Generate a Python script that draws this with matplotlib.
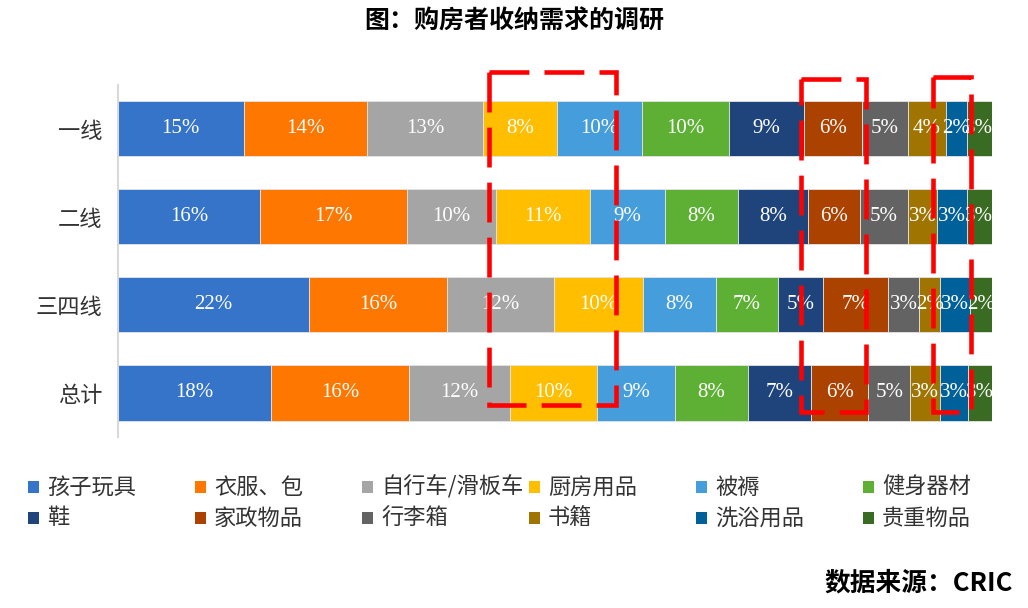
import numpy as np
import matplotlib
matplotlib.use("Agg")
import matplotlib.pyplot as plt
from matplotlib.patches import Rectangle

plt.rcParams['font.family'] = ['Noto Sans CJK SC', 'DejaVu Sans']

# rows (top to bottom) and categories
rows = ['一线', '二线', '三四线', '总计']
categories = ['孩子玩具', '衣服、包', '自行车/滑板车', '厨房用品', '被褥', '健身器材',
              '鞋', '家政物品', '行李箱', '书籍', '洗浴用品', '贵重物品']
colors = ['#3574c8', '#fe7700', '#a5a5a5', '#ffbe00', '#459ddb', '#5db034',
          '#1f447b', '#ac4200', '#636363', '#a07400', '#00619a', '#3a6b22']

# segment shares (% of bar)
share_tier1 = [14.45, 14.07, 13.31, 8.40, 9.73, 9.99, 8.58, 6.60, 5.26, 4.35, 2.47, 2.79]
share_tier2 = [16.28, 16.82, 10.22, 10.72, 8.62, 8.32, 7.97, 5.98, 5.46, 3.39, 3.36, 2.86]
share_tier34 = [21.89, 15.76, 12.24, 10.18, 8.35, 7.16, 5.15, 7.44, 3.55, 2.40, 3.40, 2.48]
share_total = [17.54, 15.82, 11.56, 9.89, 8.96, 8.35, 7.21, 6.56, 4.81, 3.43, 3.13, 2.75]

# printed labels
label_tier1 = [15, 14, 13, 8, 10, 10, 9, 6, 5, 4, 2, 3]
label_tier2 = [16, 17, 10, 11, 9, 8, 8, 6, 5, 3, 3, 3]
label_tier34 = [22, 16, 12, 10, 8, 7, 5, 7, 3, 2, 3, 2]
label_total = [18, 16, 12, 10, 9, 8, 7, 6, 5, 3, 3, 3]

# highlighted columns (x range in %, y range in row units)
highlights = [(42.5, 57.0, -0.64, 3.14), (78.2, 85.6, -0.56, 3.22), (93.3, 97.6, -0.585, 3.22)]

shares = np.array([share_tier1, share_tier2, share_tier34, share_total])
labels = np.array([label_tier1, label_tier2, label_tier34, label_total])

fig = plt.figure(figsize=(10.28, 6.08), dpi=100)
ax = fig.add_axes([0.1145, 0.2812, 0.8502, 0.5798])

y = np.arange(len(rows))
left = np.zeros(len(rows))
for i, cat in enumerate(categories):
    ax.barh(y, shares[:, i], left=left, height=0.625, color=colors[i],
            edgecolor='#e4e4e4', linewidth=0.6, label=cat)
    for r in range(len(rows)):
        ax.text(left[r] + shares[r, i] / 2, y[r], f'{labels[r, i]}%',
                ha='center', va='center', color='white', fontsize=15,
                family='Liberation Serif')
    left += shares[:, i]

ax.set_xlim(0, left.max())
ax.set_ylim(3.5, -0.5)
ax.set_yticks(y)
ax.set_yticklabels(rows, fontsize=16, color='#333333')
ax.tick_params(axis='y', length=0, pad=11)
ax.set_xticks([])
for s in ['top', 'right', 'bottom']:
    ax.spines[s].set_visible(False)
ax.spines['left'].set_color('#d9d9d9')
ax.spines['left'].set_linewidth(1.5)

# red dashed highlight boxes
for x0, x1, y0, y1 in highlights:
    ax.add_patch(Rectangle((x0, y0), x1 - x0, y1 - y0, fill=False,
                           edgecolor='#ff0000', linewidth=3.3,
                           linestyle=(0, (8.7, 3.3)), clip_on=False, zorder=6))

# legend, two rows of six fixed-width columns
W, H = 1028, 608
for k, cat in enumerate(categories):
    col, row = k % 6, k // 6
    x0 = 28 + 167 * col
    yc = 487 + 31 * row
    fig.patches.append(Rectangle((x0 / W, 1 - (yc + 6) / H), 11 / W, 12 / H,
                                 transform=fig.transFigure, facecolor=colors[k],
                                 edgecolor='none'))
    fig.text((x0 + 19) / W, 1 - yc / H, cat, fontsize=16, color='#333333',
             ha='left', va='center')

fig.text(0.5, 1 - 22 / H, '图：购房者收纳需求的调研', ha='center', va='center',
         fontsize=18, fontweight='bold', color='black')
fig.text(1013 / W, 1 - 583 / H, '数据来源：CRIC', ha='right', va='center',
         fontsize=18.5, fontweight='bold', color='black')

fig.savefig('out.png', dpi=100)
